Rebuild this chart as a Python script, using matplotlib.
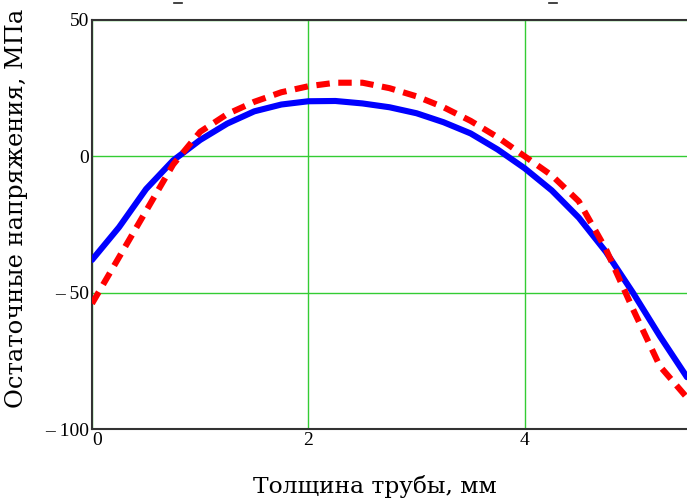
import numpy as np
import matplotlib
matplotlib.use("Agg")
import matplotlib.pyplot as plt
from matplotlib.lines import Line2D

# --- data (thickness [mm] -> residual stress [MPa]) ---
thickness = [0, 0.25, 0.5, 0.75, 1.0, 1.25, 1.5, 1.75, 2.0, 2.25, 2.5, 2.75,
             3.0, 3.25, 3.5, 3.75, 4.0, 4.25, 4.5, 4.75, 5.0, 5.25, 5.5]
stress_blue = [-38, -26, -12, -1.5, 6, 12, 16.5, 19, 20.2, 20.3, 19.4, 18,
               15.8, 12.5, 8.4, 2.5, -4.4, -12.5, -22.5, -35, -50, -66, -81]
stress_red = [-54, -37, -20, -3, 9, 15.5, 20, 23.5, 25.7, 27, 27, 25,
              22, 18, 13, 7, 0, -7, -16.5, -34, -56, -77, -88.5]

xticks = [0, 2, 4]
yticks = [-100, -50, 0, 50]
ytick_labels = ["\u2013 100", "\u2013 50", "0", "50"]

plt.rcParams["font.family"] = ["Liberation Serif", "DejaVu Serif"]

fig = plt.figure(figsize=(6.87, 5.0), dpi=100)
ax = fig.add_axes([92 / 687, 1 - 429 / 500, 1 - 92 / 687, 409 / 500])

ax.plot(thickness, stress_blue, color="#0000ff", lw=4.4, zorder=3,
        solid_capstyle="round")
ax.plot(thickness, stress_red, color="#ff0000", lw=4.4, zorder=4,
        dashes=(2.2, 1.4))

ax.set_xlim(0, 5.5)
ax.set_ylim(-100, 50)
ax.set_xticks(xticks)
ax.set_yticks(yticks)
ax.set_yticklabels(ytick_labels)
ax.grid(True, color="#33cc33", lw=1.0)
ax.set_axisbelow(True)

ax.tick_params(length=0, labelsize=14, pad=2)
for lab in ax.get_xticklabels():
    lab.set_horizontalalignment("left" if lab.get_text() == "0" else "center")
for s in ("left", "bottom", "top"):
    ax.spines[s].set_color("#333333")
    ax.spines[s].set_linewidth(1.5)
ax.spines["right"].set_visible(False)

label_font = ["DejaVu Serif"]
fig.text(375 / 687, 1 - 493 / 500, "Толщина трубы, мм", ha="center",
         va="baseline", fontsize=16.8, family=label_font)
fig.text(17 / 687, 1 - 208 / 500, "Остаточные напряжения, МПа", ha="center",
         va="center", rotation=90, fontsize=17.4, family=label_font)

# clipped remnants of text at the top edge
for xc in (178, 553):
    fig.add_artist(Line2D([(xc - 4) / 687, (xc + 4) / 687],
                          [1 - 3 / 500, 1 - 3 / 500], color="#222222", lw=1.2))

fig.savefig("out.png", dpi=100)
